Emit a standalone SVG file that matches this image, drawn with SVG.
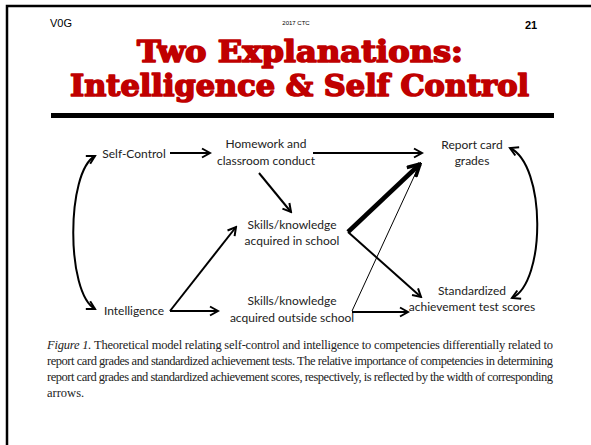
<svg xmlns="http://www.w3.org/2000/svg" width="591" height="445" viewBox="0 0 591 445">
<style>
.hdr{font-family:"Liberation Sans",Arial,sans-serif;fill:#000}
.title{font-family:"DejaVu Serif",serif;font-weight:bold;fill:#c00000;stroke:#c00000;stroke-width:1.6;stroke-linejoin:round;font-size:29px}
.lbl{font-family:Lato,"Open Sans",sans-serif;font-size:12px;fill:#222}
.cap{font-family:"Liberation Serif","Times New Roman",serif;font-size:12.5px;fill:#222}
.ln{stroke:#000;fill:none;stroke-width:2}
</style>
<defs>
<marker id="ah" viewBox="0 0 12 12" refX="10" refY="6" markerWidth="12" markerHeight="12" markerUnits="userSpaceOnUse" orient="auto-start-reverse">
<path d="M2,1.5 L10,6 L2,10.5" fill="none" stroke="#000" stroke-width="2"/>
</marker>
<marker id="ahBig" viewBox="0 0 16 16" refX="14" refY="8" markerWidth="16" markerHeight="16" markerUnits="userSpaceOnUse" orient="auto">
<path d="M2,1.5 L14,8 L2,14.5" fill="none" stroke="#000" stroke-width="3.5"/>
</marker>
</defs>
<rect width="591" height="445" fill="#fff"/>
<path d="M7,445 V6 H591" fill="none" stroke="#000" stroke-width="2.5"/>
<text class="hdr" x="50" y="27" font-size="11">V0G</text>
<text class="hdr" x="296" y="25" font-size="6" text-anchor="middle">2017 CTC</text>
<text class="hdr" x="525" y="29" font-size="11" font-weight="bold">21</text>
<text class="title" x="137" y="62" textLength="326" lengthAdjust="spacingAndGlyphs">Two Explanations:</text>
<text class="title" x="70" y="96" textLength="459" lengthAdjust="spacingAndGlyphs">Intelligence &amp; Self Control</text>
<rect x="51" y="113" width="503" height="5" fill="#000"/>

<g id="self-control"><text class="lbl" x="134" y="158" text-anchor="middle">Self-Control</text></g>
<g id="homework"><text class="lbl" x="266" y="148" text-anchor="middle">Homework and</text><text class="lbl" x="266" y="165" text-anchor="middle">classroom conduct</text></g>
<g id="skills-school"><text class="lbl" x="292" y="229" text-anchor="middle">Skills/knowledge</text><text class="lbl" x="292" y="245" text-anchor="middle">acquired in school</text></g>
<g id="intelligence"><text class="lbl" x="134" y="315" text-anchor="middle">Intelligence</text></g>
<g id="skills-outside"><text class="lbl" x="292" y="305" text-anchor="middle">Skills/knowledge</text><text class="lbl" x="292" y="322" text-anchor="middle">acquired outside school</text></g>
<g id="report-card"><text class="lbl" x="472" y="149" text-anchor="middle">Report card</text><text class="lbl" x="472" y="165" text-anchor="middle">grades</text></g>
<g id="standardized"><text class="lbl" x="472" y="295" text-anchor="middle">Standardized</text><text class="lbl" x="472" y="311" text-anchor="middle">achievement test scores</text></g>

<g id="connectors">
<path class="ln" d="M95,156 C66,172 66,293 95,309" marker-start="url(#ah)" marker-end="url(#ah)"/>
<path class="ln" d="M510,148 C546,165 546,282 512,298" marker-start="url(#ah)" marker-end="url(#ah)"/>
<path class="ln" d="M170,153 H210" marker-end="url(#ah)"/>
<path class="ln" d="M313,153 H422" marker-end="url(#ah)"/>
<path class="ln" d="M259,173 L291,212" marker-end="url(#ah)"/>
<path class="ln" d="M170,311 L236,227" marker-end="url(#ah)"/>
<path class="ln" d="M170,311 H218" marker-end="url(#ah)"/>
<path d="M348,232 L420,164" stroke="#000" stroke-width="4.5" fill="none" marker-end="url(#ahBig)"/>
<path class="ln" d="M348,232 L421,297" marker-end="url(#ah)"/>
<path d="M352,311 L418,168" stroke="#000" stroke-width="1" fill="none"/>
<path class="ln" d="M352,312 H408" marker-end="url(#ah)"/>
</g>

<text class="cap" x="47" y="349" textLength="506" lengthAdjust="spacing"><tspan font-style="italic">Figure 1.</tspan>  Theoretical model relating self-control and intelligence to competencies differentially related to</text>
<text class="cap" x="47" y="365" textLength="506" lengthAdjust="spacing">report card grades and standardized achievement tests. The relative importance of competencies in determining</text>
<text class="cap" x="47" y="381" textLength="506" lengthAdjust="spacing">report card grades and standardized achievement scores, respectively, is reflected by the width of corresponding</text>
<text class="cap" x="47" y="397">arrows.</text>
</svg>
